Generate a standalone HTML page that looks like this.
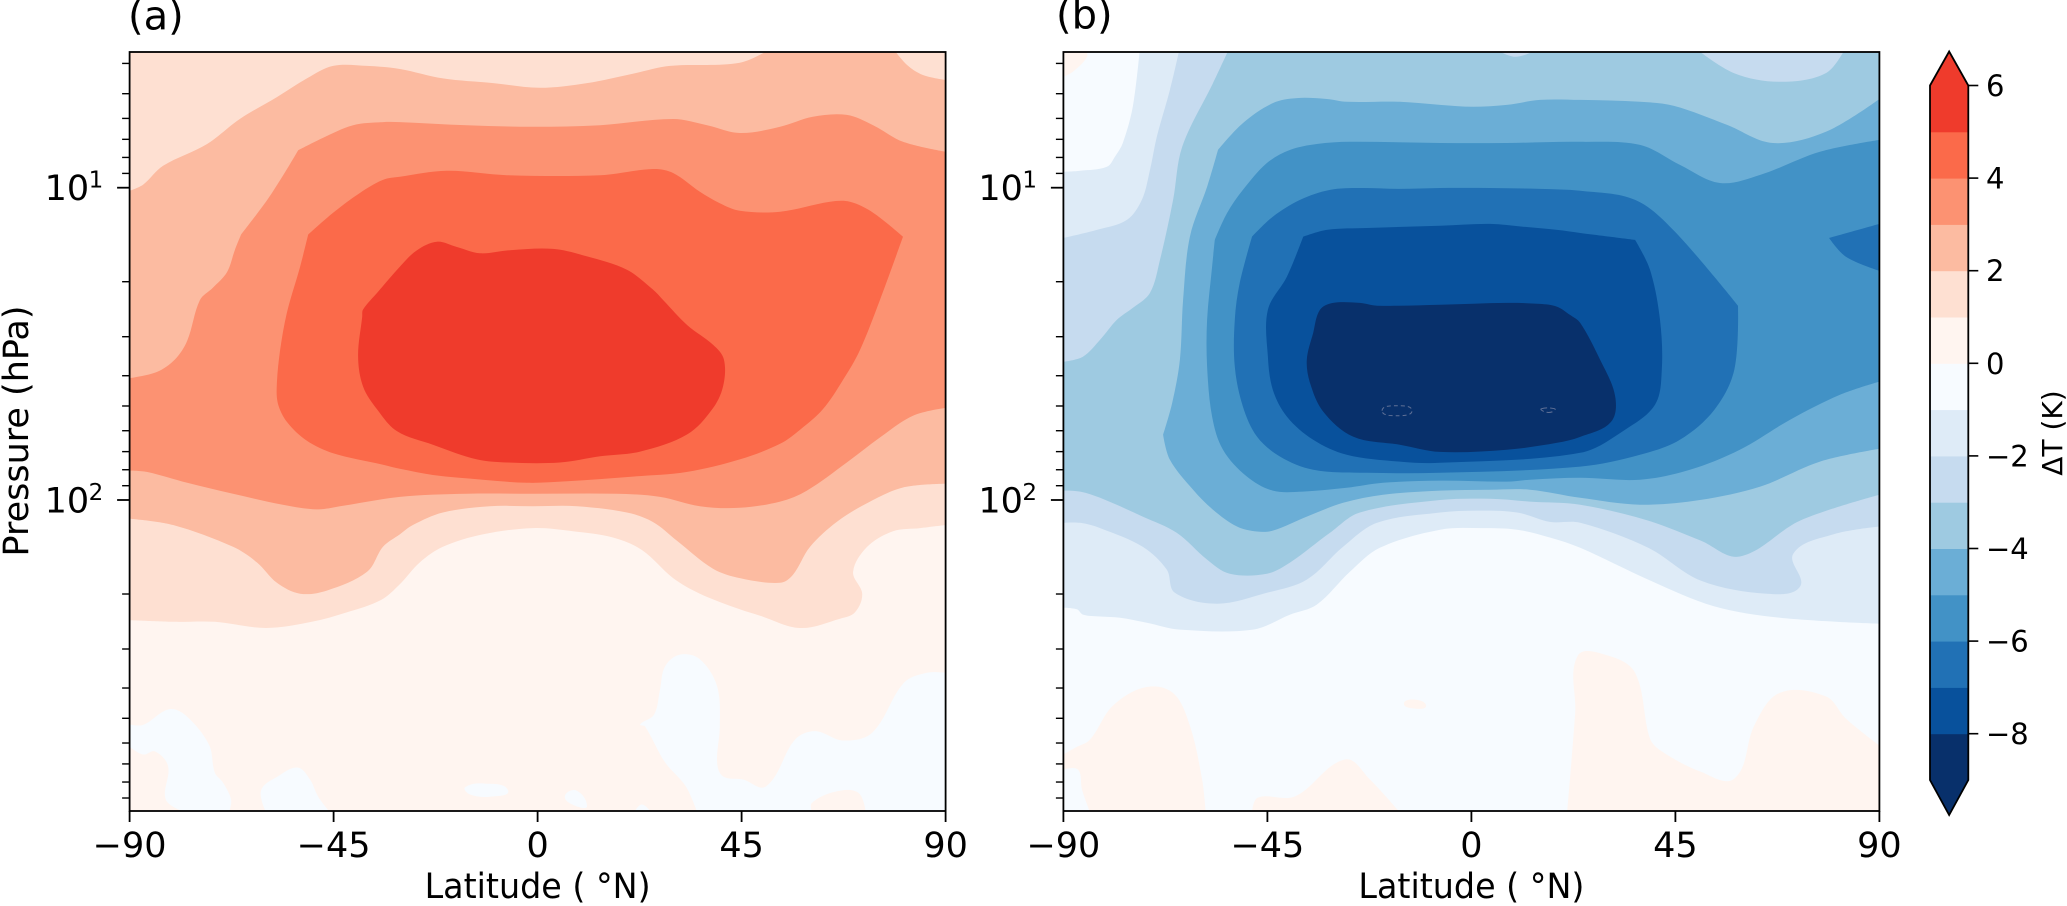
<!DOCTYPE html>
<html lang="en">
<head>
<meta charset="utf-8">
<title>Temperature change by latitude and pressure</title>
<style>
html,body{margin:0;padding:0;background:#fff;}
#figure{display:block;width:2067px;height:906px;}
text{font-family:"DejaVu Sans","Liberation Sans",sans-serif;fill:#000;}
.t40{font-size:40px;}
.t35{font-size:35px;}
.t23{font-size:23px;}
.t29{font-size:29px;}
</style>
</head>
<body>
<svg id="figure" xmlns="http://www.w3.org/2000/svg" width="2067" height="906" viewBox="0 0 2067 906">
  <rect x="0" y="0" width="2067" height="906" fill="#ffffff"/>
  <defs>
    <clipPath id="clip-a"><rect x="129.6" y="52" width="816" height="759"/></clipPath>
    <clipPath id="clip-b"><rect x="1063.4" y="52" width="816" height="759"/></clipPath>
  </defs>
  <g id="panel-a">
    <g id="fills-a" clip-path="url(#clip-a)"></g>
    <g id="axes-a"></g>
    <text class="t40" x="128" y="29.5">(a)</text>
    <text class="t35" text-anchor="middle" transform="translate(28,431) rotate(-90)">Pressure (hPa)</text>
    <text class="t35" text-anchor="middle" x="537.6" y="898" textLength="226" lengthAdjust="spacingAndGlyphs">Latitude ( °N)</text>
  </g>
  <g id="panel-b">
    <g id="fills-b" clip-path="url(#clip-b)"></g>
    <g id="axes-b"></g>
    <text class="t40" x="1056" y="28.5">(b)</text>
    <text class="t35" text-anchor="middle" x="1471.4" y="898" textLength="226" lengthAdjust="spacingAndGlyphs">Latitude ( °N)</text>
  </g>
  <g id="colorbar">
    <text class="t29" style="font-size:28px" text-anchor="middle" transform="translate(2062,433) rotate(-90)">ΔT (K)</text>
  </g>
</svg>
<script>
/* ---------- shared scale values ---------- */
const colorLevels = [-9,-8,-7,-6,-5,-4,-3,-2,-1,0,1,2,3,4,5];
const levelColors = ['#08306b','#08519c','#2171b5','#4292c6','#6baed6','#9ecae1','#c6dbef','#deebf7','#f7fbff','#fff5f0','#fee0d2','#fcbba1','#fc9272','#fb6a4a','#ef3b2c'];
const colorbarTicks = [6,4,2,0,-2,-4,-6,-8];
const latTicks = [-90,-45,0,45,90];
const majorPressureExponents = [1,2];
const minorPressures = [4,5,6,7,8,9,20,30,40,50,60,70,80,90,200,300,400,500,600,700,800,900];

/* ---------- panel (a) contour outlines: latitude (deg N), log10 pressure (hPa) ---------- */
const latA1 = [-90,-80,-71.2,-59.9,-49.8,-42.1,-34.5,-30.4,-26,-20.9,-12.1,-1,7.8,16.6,23,29.9,35.8,44.6,49,57.9,66.7,70,71.6,69.6,72.7,78.4,84.4,90,90,-90];
const logpA1 = [2.385,2.39,2.39,2.41,2.39,2.36,2.32,2.27,2.2,2.15,2.11,2.09,2.1,2.12,2.16,2.25,2.3,2.35,2.37,2.41,2.38,2.36,2.3,2.23,2.15,2.1,2.09,2.08,0.5,0.5];

const latA2 = [-90,-87,-82.6,-72.9,-65.7,-57.5,-50.9,-45.1,-37.6,-30.4,-20.9,-9.8,0.5,10.9,21,29.2,44.6,52,78.2,81.5,85,90,90,80.6,72.7,66,60.1,56.3,53.5,44.6,38.7,30.7,25.4,19.7,8.7,-1,-10.5,-20.9,-27.5,-30.4,-34.1,-37.6,-46.5,-52.4,-57.5,-61.9,-67.2,-80.4,-90];
const logpA2 = [1.01,0.99,0.93,0.86,0.78,0.71,0.65,0.61,0.61,0.62,0.65,0.665,0.68,0.665,0.635,0.61,0.6,0.55,0.55,0.607,0.639,0.655,1.948,1.96,2.01,2.07,2.15,2.24,2.265,2.25,2.22,2.13,2.07,2.04,2.02,2.02,2.02,2.04,2.08,2.11,2.15,2.23,2.29,2.3,2.265,2.2,2.15,2.08,2.06];

const latA3 = [-90,-84,-80,-77.3,-74.5,-71.6,-68.5,-66.8,-65.4,-59.7,-55.7,-52.8,-47.3,-40.7,-34.1,-30.4,-15.6,-1,13.8,29.9,37.4,44.6,53.5,60.7,68.2,74,80.6,90,90,82.8,75.5,68.2,59.4,53.5,44.6,35.8,27,17.5,-1,-15.6,-30.4,-43.6,-48.7,-56.2,-67.2,-77.3,-86.2,-90];
const logpA3 = [1.61,1.59,1.55,1.49,1.36,1.32,1.27,1.2,1.15,1.04,0.95,0.88,0.84,0.8,0.79,0.79,0.8,0.805,0.8,0.78,0.8,0.825,0.805,0.773,0.767,0.8,0.853,0.885,1.705,1.73,1.8,1.88,1.97,2.005,2.025,2.02,1.99,1.98,1.98,1.98,1.99,2.02,2.03,2.015,1.98,1.945,1.91,1.906];
const cornersA3 = [8,11];

const latA4 = [-50.6,-45.1,-39.2,-34.1,-30.4,-20,-6.8,13.8,25.5,29.9,35.8,40.2,44.6,53.5,64.5,68.9,74,80.6,75.5,71.1,67.4,62.9,57.9,53.5,44.6,33,21,6.5,-2.3,-12.1,-23.1,-30.4,-34.1,-45.1,-50.9,-55.3,-57.3,-57.5,-56.8,-55.3,-52.4];
const logpA4 = [1.15,1.08,1.017,0.975,0.965,0.946,0.96,0.96,0.94,0.953,1.013,1.05,1.074,1.077,1.045,1.045,1.08,1.157,1.36,1.52,1.615,1.71,1.775,1.82,1.87,1.91,1.925,1.94,1.945,1.935,1.92,1.9,1.887,1.85,1.81,1.75,1.69,1.625,1.52,1.4,1.253];
const cornersA4 = [0,17];

const latA5 = [-38.5,-35.4,-30.4,-26.6,-22.2,-17.8,-12.7,-6.1,3.4,10.9,19.7,25.5,27.7,33,38.7,41.1,40.9,38.5,33,22.6,13.8,4.9,-6.8,-13.4,-23.1,-31,-35.4,-38.5,-39.6,-38.7];
const logpA5 = [1.39,1.337,1.253,1.2,1.173,1.19,1.21,1.2,1.196,1.22,1.263,1.327,1.36,1.44,1.503,1.55,1.637,1.71,1.79,1.845,1.86,1.88,1.88,1.87,1.823,1.78,1.71,1.637,1.54,1.413];

/* panel (a) patches just below zero near the surface */
const latAZ1 = [-90,-87,-81.3,-77.6,-72.5,-71.2,-69.4,-67.6,-68.1,-77.6,-82,-81.5,-84.4,-87,-90];
const logpAZ1 = [2.719,2.72,2.67,2.69,2.783,2.873,2.905,2.96,3.0,3.0,2.96,2.853,2.805,2.815,2.79];
const latAZ2 = [-61,-57.3,-52.9,-50.2,-48.4,-45.8,-59.9];
const logpAZ2 = [2.93,2.885,2.857,2.895,2.95,3.0,3.0];
const latAZ3 = [-16,-11.6,-6.5,-10.5,-14.9];
const logpAZ3 = [2.92,2.908,2.93,2.95,2.943];
const latAZ4 = [6,8.5,10.9,8.5];
const logpAZ4 = [2.95,2.93,2.98,2.98];
const latAZ5 = [21.3,23,25];
const logpAZ5 = [3.0,2.975,3.0];
const latAZ6 = [28.1,31.4,35.8,39.6,40.2,39.6,40.9,45.3,50.4,56.8,61.2,67.4,73.8,80.8,85.9,90,90,72.4,70.7,65.6,60.5,60.5,35.2,32.7,28.1,23.7,22.6,25.7,27];
const logpAZ6 = [2.533,2.495,2.51,2.597,2.725,2.84,2.885,2.895,2.917,2.767,2.74,2.77,2.745,2.585,2.553,2.553,3.0,3.0,2.937,2.934,2.97,3.0,3.0,2.917,2.84,2.725,2.719,2.687,2.607];

/* ---------- panel (b) contour outlines ---------- */
const latB1 = [-90,-86.3,-80.4,-78.6,-76.9,-74.7,-73.1,90,90,68.1,53.5,39,24,17.3,10.1,2.5,-6.9,-20.2,-26.8,-34.1,-40,-48.2,-64.3,-71.6,-77.5,-81.9,-85.7,-87,-90];
const logpB1 = [0.949,0.946,0.933,0.9,0.857,0.741,0.55,0.55,2.396,2.377,2.34,2.255,2.153,2.12,2.095,2.09,2.095,2.153,2.23,2.335,2.367,2.415,2.415,2.393,2.377,2.373,2.367,2.35,2.345];

const latB2 = [-90,-82.6,-76,-72.7,-70.9,-69.4,-66.5,-64.3,90,90,79.8,71,72.5,65.2,50.6,39,24,17.3,10.1,1.2,-6.9,-20.8,-28.3,-36.3,-45.1,-56.1,-65.4,-67.2,-72.5,-81.9,-86.3,-90];
const logpB2 = [1.161,1.135,1.103,1.039,0.943,0.837,0.687,0.55,0.55,2.085,2.11,2.172,2.277,2.3,2.258,2.153,2.073,2.07,2.04,2.034,2.04,2.073,2.15,2.255,2.297,2.332,2.297,2.223,2.15,2.09,2.073,2.073];

const latB3 = [-90,-85.7,-81.9,-78.2,-74.7,-70.9,-68.7,-65.8,-63.8,-57,-53.3,4.6,9.7,15.6,49.1,57.9,68.1,78.2,82.6,90,90,72.5,59.2,50.6,39,24,12.9,4.1,-6.9,-24.6,-31.2,-40,-45.1,-53.3,-58.3,-65,-72.5,-81.9,-86.3,-90];
const logpB3 = [1.557,1.541,1.487,1.423,1.385,1.337,1.231,1.039,0.869,0.665,0.55,0.55,0.581,0.55,0.55,0.633,0.661,0.633,0.55,0.55,1.983,2.066,2.181,2.13,2.066,2.015,2.005,1.996,2.0,2.04,2.105,2.2,2.236,2.236,2.191,2.105,2.053,1.993,1.973,1.97];

const latB4 = [-55.9,-50.4,-43.8,-38.5,-31.9,-27.5,-15.8,-6.9,0.4,7.8,15.1,24,37.2,44.7,56.4,66.5,78.2,90,90,76.9,63.7,50.4,37.2,24,12.9,4.1,-6.9,-19.5,-28.3,-36.3,-43.8,-47.3,-51.7,-57,-61.4,-66.5,-68,-66,-64.3,-63.6,-62.1,-58.3];
const logpB4 = [0.879,0.793,0.729,0.713,0.716,0.725,0.725,0.735,0.741,0.735,0.719,0.719,0.725,0.738,0.799,0.857,0.821,0.716,1.836,1.877,1.957,2.0,2.015,1.993,1.967,1.967,1.97,1.983,2.009,2.053,2.098,2.101,2.085,2.031,1.967,1.871,1.791,1.689,1.551,1.359,1.157,0.997];
const cornersB4 = [0,36];

const latB5 = [-56.6,-53.9,-50.4,-45.1,-40,-34.1,-26.8,-6.9,7.8,24,37.2,46,54.8,63.7,76.9,90,90,81.3,70.3,59.2,48.2,37.2,24,12.9,7.8,-6.9,-19.5,-27.5,-37.2,-43.8,-49.5,-54.8,-57.2,-58.3,-58.3,-57.2];
const logpB5 = [1.167,1.081,1.007,0.921,0.879,0.86,0.853,0.857,0.857,0.853,0.863,0.927,0.985,0.959,0.885,0.847,1.621,1.663,1.743,1.839,1.903,1.935,1.929,1.935,1.941,1.938,1.945,1.961,1.973,1.97,1.925,1.839,1.733,1.573,1.423,1.253];
const cornersB5 = [0];

const latB6 = [-48.4,-43.8,-37.8,-31.2,-24.6,-15.8,-6.9,4.1,15.1,24,36.1,44.7,58.8,58,53.6,46,37.2,24,-6.9,-23,-34.9,-42.2,-47.3,-50.4,-52.2,-52.2,-51.1];
const logpB6 = [1.157,1.093,1.039,1.007,1.001,1.004,1.001,1.001,1.004,1.01,1.039,1.138,1.378,1.583,1.711,1.807,1.855,1.893,1.913,1.913,1.903,1.861,1.797,1.701,1.573,1.423,1.305];
const cornersB6 = [0,12];
const latB6Edge = [90,78.9,82.6,90];
const logpB6Edge = [1.116,1.161,1.221,1.266];
const cornersB6Edge = [1];

const latB7 = [-37.1,-31.9,-23,-6.9,4.1,11.4,18.9,24,36.1,39.4,41.6,42,40.5,33.9,24,-6.9,-15.8,-27.5,-34.9,-40.7,-43.8,-44.9,-44.9,-40.7];
const logpB7 = [1.157,1.135,1.129,1.122,1.116,1.125,1.135,1.145,1.167,1.263,1.423,1.583,1.695,1.775,1.849,1.881,1.877,1.855,1.807,1.733,1.647,1.541,1.391,1.285];
const cornersB7 = [0,8];

const latB8 = [-33.4,-30.5,-24.6,-20.8,-6.9,7.8,15.1,18.9,21.7,24,28.4,31.7,30.8,24,18.9,7.8,-6.9,-15.8,-26.1,-32.7,-35.6,-36.3,-34.9];
const logpB8 = [1.391,1.369,1.369,1.378,1.375,1.369,1.372,1.381,1.407,1.433,1.551,1.667,1.75,1.798,1.817,1.839,1.846,1.823,1.797,1.717,1.625,1.551,1.465];

/* panel (b) patches just above zero */
const latBR1 = [-90,-87.9,-84.8,-85.2,-90];
const logpBR1 = [0.645,0.629,0.581,0.55,0.55];
const latBR2 = [-90,-87.4,-84.1,-79.1,-71.8,-65.8,-62.1,-59.4,-58.6,-84.1,-85.9,-86.8,-90];
const logpBR2 = [2.815,2.793,2.767,2.659,2.599,2.618,2.723,2.895,3.0,3.0,2.927,2.863,2.863];
const latBR3 = [-48.4,-47.1,-38.9,-27.9,-22.4,-15.8];
const logpBR3 = [3.0,2.953,2.949,2.831,2.895,3.0];
const latBR4 = [-14.9,-12.4,-10,-12.4];
const logpBR4 = [2.652,2.639,2.659,2.668];
const latBR5 = [21.1,22.9,23.5,30.1,36.1,39.4,42,50.4,58,62.4,68.1,78.2,82.6,90,90];
const logpBR5 = [3.0,2.681,2.498,2.498,2.553,2.764,2.805,2.869,2.892,2.722,2.617,2.629,2.7,2.786,3.0];

/* faint closed contours inside the coldest region */
const latSpeck1 = [-19.7,-16.4,-13.1,-16.4];
const logpSpeck1 = [1.714,1.698,1.714,1.73];
const latSpeck2 = [15.4,18.4,17.8,16.2];
const logpSpeck2 = [1.708,1.708,1.718,1.718];

/* ---------- layer lists: outline arrays and the colour level each one fills ---------- */
const layersA = [
  {lat:latA1,logp:logpA1,level:1,name:'contour-a-above-1'},
  {lat:latA2,logp:logpA2,level:2,name:'contour-a-above-2'},
  {lat:latA3,logp:logpA3,level:3,name:'contour-a-above-3',corners:cornersA3},
  {lat:latA4,logp:logpA4,level:4,name:'contour-a-above-4',corners:cornersA4},
  {lat:latA5,logp:logpA5,level:5,name:'contour-a-above-5'},
  {lat:latAZ1,logp:logpAZ1,level:-1,name:'contour-a-below-0-west'},
  {lat:latAZ2,logp:logpAZ2,level:-1,name:'contour-a-below-0-south'},
  {lat:latAZ3,logp:logpAZ3,level:-1,name:'contour-a-below-0-patch-1'},
  {lat:latAZ4,logp:logpAZ4,level:-1,name:'contour-a-below-0-patch-2'},
  {lat:latAZ5,logp:logpAZ5,level:-1,name:'contour-a-below-0-patch-3'},
  {lat:latAZ6,logp:logpAZ6,level:-1,name:'contour-a-below-0-east'}
];
const layersB = [
  {lat:latB1,logp:logpB1,level:-2,name:'contour-b-below-1'},
  {lat:latB2,logp:logpB2,level:-3,name:'contour-b-below-2'},
  {lat:latB3,logp:logpB3,level:-4,name:'contour-b-below-3'},
  {lat:latB4,logp:logpB4,level:-5,name:'contour-b-below-4',corners:cornersB4},
  {lat:latB5,logp:logpB5,level:-6,name:'contour-b-below-5',corners:cornersB5},
  {lat:latB6,logp:logpB6,level:-7,name:'contour-b-below-6',corners:cornersB6},
  {lat:latB6Edge,logp:logpB6Edge,level:-7,name:'contour-b-below-6-edge',corners:cornersB6Edge},
  {lat:latB7,logp:logpB7,level:-8,name:'contour-b-below-7',corners:cornersB7},
  {lat:latB8,logp:logpB8,level:-9,name:'contour-b-below-8'},
  {lat:latBR1,logp:logpBR1,level:0,name:'contour-b-above-0-corner'},
  {lat:latBR2,logp:logpBR2,level:0,name:'contour-b-above-0-west'},
  {lat:latBR3,logp:logpBR3,level:0,name:'contour-b-above-0-south'},
  {lat:latBR4,logp:logpBR4,level:0,name:'contour-b-above-0-patch'},
  {lat:latBR5,logp:logpBR5,level:0,name:'contour-b-above-0-east'}
];

/* ---------- geometry and axis functions ---------- */
const SVGNS = 'http://www.w3.org/2000/svg';
const plotWidth = 816, plotTop = 52, plotBottom = 811;
function xScale(x0, lat){ return x0 + (lat + 90) * plotWidth / 180; }
function yScale(logp){ return 187.7 + (logp - 1) * 312.3; }
function colorY(v){ return 363.3 - v * 46.3; }
function colorFor(level){ return levelColors[colorLevels.indexOf(level)]; }
function make(parent, tag, attrs, text){
  const el = document.createElementNS(SVGNS, tag);
  for (const k in attrs) el.setAttribute(k, attrs[k]);
  if (text !== undefined) el.textContent = text;
  parent.appendChild(el);
  return el;
}
function onFrame(lat, logp){ return lat <= -89.9 || lat >= 89.9 || logp <= 0.57 || logp >= 2.99; }
function contourPath(x0, lat, logp, corners){
  const n = lat.length;
  const px = lat.map(v => xScale(x0, v));
  const py = logp.map(yScale);
  const sharp = corners || [];
  const ux = [], uy = [];
  for (let i = 0; i < n; i++){
    if (onFrame(lat[i], logp[i]) || sharp.indexOf(i) >= 0){ ux.push(0); uy.push(0); continue; }
    const a = (i - 1 + n) % n, b = (i + 1) % n;
    const dx = px[b] - px[a], dy = py[b] - py[a];
    const len = Math.hypot(dx, dy) || 1;
    ux.push(dx / len);
    uy.push(dy / len);
  }
  let d = 'M' + px[0].toFixed(1) + ' ' + py[0].toFixed(1);
  for (let i = 0; i < n; i++){
    const j = (i + 1) % n;
    const h = Math.hypot(px[j] - px[i], py[j] - py[i]) / 3;
    d += 'C' + (px[i] + ux[i] * h).toFixed(1) + ' ' + (py[i] + uy[i] * h).toFixed(1) + ' ' +
         (px[j] - ux[j] * h).toFixed(1) + ' ' + (py[j] - uy[j] * h).toFixed(1) + ' ' +
         px[j].toFixed(1) + ' ' + py[j].toFixed(1);
  }
  return d + 'Z';
}
function drawFills(groupId, x0, baseLevel, layers){
  const g = document.getElementById(groupId);
  const base = make(g, 'rect', {x:x0, y:plotTop, width:plotWidth, height:plotBottom - plotTop, fill:colorFor(baseLevel)});
  
  
  layers.forEach(function(layer){
    const p = make(g, 'path', {d:contourPath(x0, layer.lat, layer.logp, layer.corners), fill:colorFor(layer.level)});
    
    
  });
}
function drawAxes(groupId, x0){
  const g = document.getElementById(groupId);
  const x1 = x0 + plotWidth;
  minorPressures.forEach(function(pv){
    const y = yScale(Math.log10(pv));
    const t = make(g, 'line', {x1:x0 - 7.5, x2:x0, y1:y, y2:y, stroke:'#000', 'stroke-width':1.4});
    
    
  });
  majorPressureExponents.forEach(function(e){
    const y = yScale(e);
    const t = make(g, 'line', {x1:x0 - 12.5, x2:x0, y1:y, y2:y, stroke:'#000', 'stroke-width':1.8});
    
    
    const lab = make(g, 'text', {x:x0 - 85, y:y + 12.5, class:'t35'}, '10');
    
    
    const sup = make(g, 'text', {x:x0 - 41, y:y, class:'t23'}, String(e));
    
    
  });
  latTicks.forEach(function(v){
    const x = xScale(x0, v);
    const t = make(g, 'line', {x1:x, x2:x, y1:plotBottom, y2:plotBottom + 11, stroke:'#000', 'stroke-width':1.8});
    
    
    const lab = make(g, 'text', {x:x, y:857, class:'t35', 'text-anchor':'middle'}, String(v).replace('-', '\u2212'));
    
    
  });
  const frame = make(g, 'rect', {x:x0, y:plotTop, width:x1 - x0, height:plotBottom - plotTop, fill:'none', stroke:'#000', 'stroke-width':1.8});
  
  
}
function drawSpecks(x0){
  const g = document.getElementById('fills-b');
  const e = make(g, 'path', {d:contourPath(x0, latSpeck1, logpSpeck1), fill:'none', stroke:'#5f7096', 'stroke-width':1, 'stroke-dasharray':'4 3'});
  
  
  const s = make(g, 'path', {d:contourPath(x0, latSpeck2, logpSpeck2), fill:'none', stroke:'#5f7096', 'stroke-width':1, 'stroke-dasharray':'6 3'});
  
  
}
function drawColorbar(){
  const g = document.getElementById('colorbar');
  const left = 1930, right = 1968.3, mid = (left + right) / 2;
  colorLevels.forEach(function(level, i){
    const yTop = colorY(level + 1), yBot = colorY(level);
    const r = make(g, 'rect', {x:left, y:yTop, width:right - left, height:yBot - yTop + 0.5, fill:levelColors[i]});
    
    
  });
  const topY = colorY(colorLevels[colorLevels.length - 1] + 1);
  const botY = colorY(colorLevels[0]);
  const upper = make(g, 'polygon', {points:left + ',' + topY + ' ' + mid + ',' + (topY - 34) + ' ' + right + ',' + topY, fill:levelColors[levelColors.length - 1]});
  
  
  const lower = make(g, 'polygon', {points:left + ',' + botY + ' ' + mid + ',' + (botY + 35) + ' ' + right + ',' + botY, fill:levelColors[0]});
  
  
  const outlinePts = [left + ',' + topY, mid + ',' + (topY - 34), right + ',' + topY, right + ',' + botY, mid + ',' + (botY + 35), left + ',' + botY].join(' ');
  const outline = make(g, 'polygon', {points:outlinePts, fill:'none', stroke:'#000', 'stroke-width':1.8});
  
  
  colorbarTicks.forEach(function(v){
    const y = colorY(v);
    const t = make(g, 'line', {x1:right, x2:right + 10, y1:y, y2:y, stroke:'#000', 'stroke-width':1.6});
    
    
    const lab = make(g, 'text', {x:1986, y:y + 10.5, class:'t29'}, String(v).replace('-', '\u2212'));
    
    
  });
}
drawFills('fills-a', 129.6, 0, layersA);
drawFills('fills-b', 1063.4, -1, layersB);
drawSpecks(1063.4);
drawAxes('axes-a', 129.6);
drawAxes('axes-b', 1063.4);
drawColorbar();
</script>
</body>
</html>
